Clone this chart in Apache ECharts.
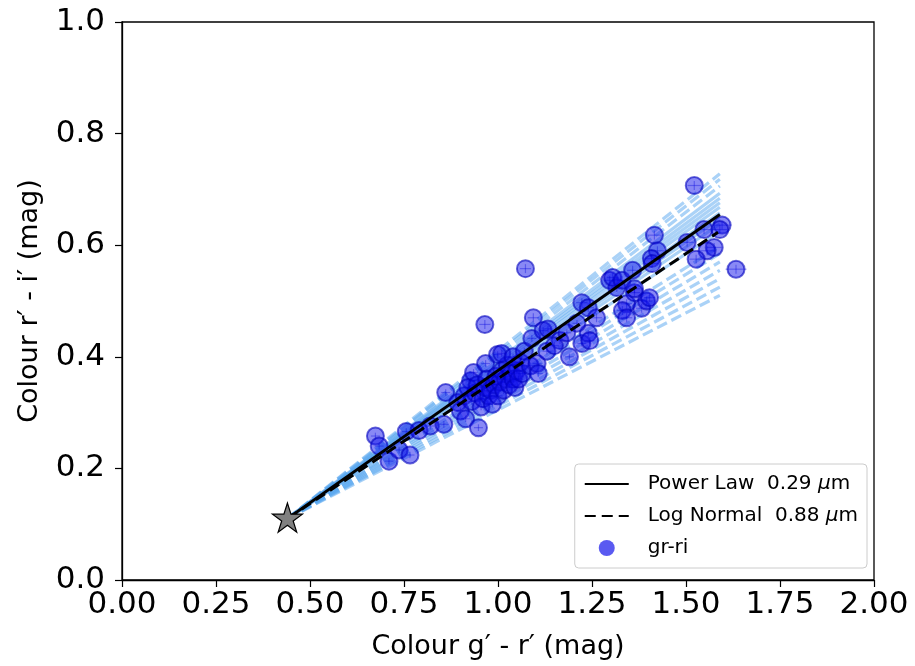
<!DOCTYPE html>
<html>
<head>
<meta charset="utf-8">
<script src="https://cdn.jsdelivr.net/npm/echarts@6/dist/echarts.min.js"></script>
<style>
  html, body { margin: 0; padding: 0; background: #fff; }
  #main { width: 915px; height: 666px; }
</style>
</head>
<body>
<div id="main"></div>
<script>
// axis ticks
const xTicks = [0, 0.25, 0.5, 0.75, 1.0, 1.25, 1.5, 1.75, 2.0];
const yTicks = [0, 0.2, 0.4, 0.6, 0.8, 1.0];

// starting colour (star) and model end points
const starPoint = [0.44, 0.11];
const fitEndX = 1.59;
const powerLawEndY = 0.655;
const logNormalEndY = 0.623;
// other models, light blue, y at fitEndX
const modelSolidEnds = [0.693, 0.684, 0.676, 0.668, 0.658, 0.648, 0.638, 0.625];
const modelDashedEnds = [0.728, 0.718, 0.706, 0.598, 0.585, 0.57, 0.555, 0.54, 0.525, 0.51];

// gr-ri measurements: [g-r, r-i, err g-r, err r-i]
const grri = [
  [0.674, 0.258, 0.012, 0.006], [0.684, 0.240, 0.012, 0.006], [0.710, 0.213, 0.012, 0.006],
  [0.737, 0.233, 0.012, 0.006], [0.756, 0.266, 0.012, 0.006], [0.766, 0.224, 0.012, 0.006],
  [0.790, 0.268, 0.012, 0.006], [0.820, 0.276, 0.012, 0.006], [0.856, 0.279, 0.012, 0.006],
  [0.861, 0.336, 0.012, 0.006], [0.893, 0.318, 0.012, 0.006], [0.900, 0.303, 0.012, 0.006],
  [0.914, 0.289, 0.012, 0.006], [0.948, 0.273, 0.012, 0.006], [0.927, 0.357, 0.012, 0.006],
  [0.935, 0.372, 0.012, 0.006], [0.967, 0.388, 0.012, 0.006], [0.999, 0.404, 0.012, 0.006],
  [0.965, 0.458, 0.015, 0.008], [0.910, 0.330, 0.012, 0.006], [0.920, 0.345, 0.012, 0.006],
  [0.930, 0.320, 0.012, 0.006], [0.940, 0.335, 0.012, 0.006], [0.945, 0.350, 0.012, 0.006],
  [0.955, 0.310, 0.012, 0.006], [0.960, 0.325, 0.012, 0.006], [0.965, 0.345, 0.012, 0.006],
  [0.970, 0.360, 0.012, 0.006], [0.975, 0.330, 0.012, 0.006], [0.980, 0.340, 0.012, 0.006],
  [0.985, 0.315, 0.012, 0.006], [0.990, 0.350, 0.012, 0.006], [0.995, 0.365, 0.012, 0.006],
  [1.000, 0.330, 0.012, 0.006], [1.005, 0.355, 0.012, 0.006], [1.010, 0.375, 0.012, 0.006],
  [1.015, 0.340, 0.012, 0.006], [1.020, 0.360, 0.012, 0.006], [1.025, 0.385, 0.012, 0.006],
  [1.030, 0.350, 0.012, 0.006], [1.035, 0.370, 0.012, 0.006], [1.040, 0.360, 0.012, 0.006],
  [1.045, 0.345, 0.012, 0.006], [1.050, 0.375, 0.012, 0.006], [1.055, 0.360, 0.012, 0.006],
  [1.060, 0.390, 0.012, 0.006], [1.065, 0.370, 0.012, 0.006], [1.010, 0.406, 0.012, 0.006],
  [1.040, 0.400, 0.012, 0.006], [1.070, 0.410, 0.012, 0.006], [1.073, 0.558, 0.015, 0.008],
  [1.086, 0.384, 0.012, 0.006], [1.104, 0.388, 0.012, 0.006], [1.107, 0.370, 0.012, 0.006],
  [1.090, 0.433, 0.012, 0.006], [1.094, 0.470, 0.015, 0.008], [1.120, 0.447, 0.012, 0.006],
  [1.133, 0.450, 0.012, 0.006], [1.130, 0.410, 0.012, 0.006], [1.165, 0.429, 0.012, 0.006],
  [1.183, 0.443, 0.012, 0.006], [1.150, 0.420, 0.012, 0.006], [1.190, 0.400, 0.012, 0.006],
  [1.223, 0.497, 0.015, 0.008], [1.240, 0.488, 0.015, 0.008], [1.262, 0.470, 0.015, 0.008],
  [1.223, 0.424, 0.012, 0.006], [1.240, 0.442, 0.012, 0.006], [1.244, 0.429, 0.012, 0.006],
  [1.210, 0.460, 0.012, 0.006], [1.297, 0.537, 0.015, 0.008], [1.316, 0.524, 0.015, 0.008],
  [1.342, 0.495, 0.015, 0.008], [1.331, 0.483, 0.015, 0.008], [1.342, 0.470, 0.015, 0.008],
  [1.363, 0.515, 0.015, 0.008], [1.382, 0.487, 0.015, 0.008], [1.395, 0.500, 0.015, 0.008],
  [1.305, 0.542, 0.015, 0.008], [1.330, 0.537, 0.015, 0.008], [1.363, 0.522, 0.015, 0.008],
  [1.403, 0.506, 0.015, 0.008], [1.358, 0.555, 0.015, 0.008], [1.416, 0.618, 0.018, 0.008],
  [1.424, 0.590, 0.018, 0.008], [1.408, 0.576, 0.018, 0.008], [1.410, 0.567, 0.018, 0.008],
  [1.522, 0.707, 0.018, 0.008], [1.503, 0.605, 0.018, 0.008], [1.548, 0.628, 0.018, 0.008],
  [1.596, 0.636, 0.025, 0.008], [1.590, 0.628, 0.020, 0.008], [1.575, 0.596, 0.020, 0.008],
  [1.556, 0.590, 0.020, 0.008], [1.527, 0.575, 0.018, 0.008], [1.633, 0.557, 0.028, 0.008]
];

const FONT = "DejaVu Sans";
const lightBlue = "rgba(85, 165, 240, 0.5)";
const pointBlue = "rgba(20, 20, 235, 0.5)";

function modelLine(endY, dashed) {
  return {
    type: "line",
    data: [starPoint, [fitEndX, endY]],
    showSymbol: false,
    symbol: "none",
    silent: true,
    z: 1,
    lineStyle: { color: lightBlue, width: 3.2, type: dashed ? [11, 5] : "solid" },
  };
}

const chart = echarts.init(document.getElementById("main"));
const legendNames = {
  "Power Law": "{n|Power Law  0.29 }{i|μ}{n|m}",
  "Log Normal": "{n|Log Normal  0.88 }{i|μ}{n|m}",
  "gr-ri": "{n|gr-ri}",
};

const series = [];
modelSolidEnds.forEach((y) => series.push(modelLine(y, false)));
modelDashedEnds.forEach((y) => series.push(modelLine(y, true)));
series.push({
  name: "gr-ri",
  type: "scatter",
  data: grri.map((d) => [d[0], d[1]]),
  symbol: "circle",
  symbolSize: 17,
  z: 3,
  itemStyle: { color: pointBlue, borderColor: "rgba(0, 0, 190, 0.6)", borderWidth: 2, opacity: 1 },
});
series.push({
  type: "custom",
  data: grri,
  z: 4,
  silent: true,
  renderItem: function (params, api) {
    const x = api.value(0), y = api.value(1), ex = api.value(2), ey = api.value(3);
    const l = api.coord([x - ex, y]), r = api.coord([x + ex, y]);
    const b = api.coord([x, y - ey]), t = api.coord([x, y + ey]);
    const st = { stroke: "rgba(0, 0, 220, 0.35)", lineWidth: 1.2 };
    return {
      type: "group",
      children: [
        { type: "line", shape: { x1: l[0], y1: l[1], x2: r[0], y2: r[1] }, style: st },
        { type: "line", shape: { x1: b[0], y1: b[1], x2: t[0], y2: t[1] }, style: st },
      ],
    };
  },
});
series.push({
  name: "Power Law",
  type: "line",
  data: [starPoint, [fitEndX, powerLawEndY]],
  symbol: "none",
  z: 5,
  lineStyle: { color: "#000", width: 3 },
});
series.push({
  name: "Log Normal",
  type: "line",
  data: [starPoint, [fitEndX - 0.005, logNormalEndY]],
  symbol: "none",
  z: 5,
  lineStyle: { color: "#000", width: 3, type: [11, 6] },
});
series.push({
  type: "scatter",
  data: [starPoint],
  symbol: "path://M50,0 L61.2,34.5 L97.6,34.5 L68.2,55.9 L79.4,90.5 L50,69.1 L20.6,90.5 L31.8,55.9 L2.4,34.5 L38.8,34.5 Z",
  symbolSize: [30, 29],
  symbolOffset: [0, -1],
  z: 6,
  silent: true,
  itemStyle: { color: "#808080", borderColor: "#000", borderWidth: 1.2, opacity: 1 },
});

const option = {
  animation: false,
  backgroundColor: "#fff",
  grid: {
    left: 122, right: 41, top: 22, bottom: 86,
    show: true, borderColor: "#000", borderWidth: 1.3, backgroundColor: "transparent",
  },
  xAxis: {
    type: "value",
    min: xTicks[0],
    max: xTicks[xTicks.length - 1],
    interval: 0.25,
    name: "Colour g′ - r′ (mag)",
    nameLocation: "middle",
    nameGap: 53,
    nameTextStyle: { fontFamily: FONT, fontSize: 27, color: "#000" },
    axisLine: { lineStyle: { color: "#000", width: 1.3 } },
    axisTick: { length: 7, lineStyle: { color: "#000", width: 1.2 } },
    axisLabel: {
      fontFamily: FONT, fontSize: 31, color: "#000", margin: 9,
      formatter: (v) => v.toFixed(2),
    },
    splitLine: { show: false },
  },
  yAxis: {
    type: "value",
    min: yTicks[0],
    max: yTicks[yTicks.length - 1],
    interval: 0.2,
    name: "Colour r′ - i′ (mag)",
    nameLocation: "middle",
    nameGap: 79,
    nameTextStyle: { fontFamily: FONT, fontSize: 27, color: "#000" },
    axisLine: { lineStyle: { color: "#000", width: 1.3 } },
    axisTick: { length: 7, lineStyle: { color: "#000", width: 1.2 } },
    axisLabel: {
      fontFamily: FONT, fontSize: 31, color: "#000", margin: 17,
      formatter: (v) => v.toFixed(1),
    },
    splitLine: { show: false },
  },
  legend: {
    data: [
      { name: "Power Law", itemStyle: { opacity: 0 } },
      { name: "Log Normal", itemStyle: { opacity: 0 } },
      { name: "gr-ri", icon: "circle", itemStyle: { color: "rgba(20, 20, 235, 0.7)", borderWidth: 0 } },
    ],
    orient: "vertical",
    right: 48,
    bottom: 98,
    itemWidth: 44,
    itemHeight: 16,
    itemGap: 12,
    padding: [10, 9, 10, 9],
    backgroundColor: "#fff",
    borderColor: "#ccc",
    borderWidth: 1,
    borderRadius: 4,
    selectedMode: false,
    formatter: (name) => legendNames[name],
    textStyle: {
      fontFamily: FONT,
      fontSize: 20,
      color: "#000",
      padding: [0, 0, 0, 14],
      rich: {
        n: { fontFamily: FONT, fontSize: 20, color: "#000" },
        i: { fontFamily: FONT, fontSize: 20, color: "#000", fontStyle: "italic" },
      },
    },
  },
  series: series,
};

chart.setOption(option);
</script>
</body>
</html>
